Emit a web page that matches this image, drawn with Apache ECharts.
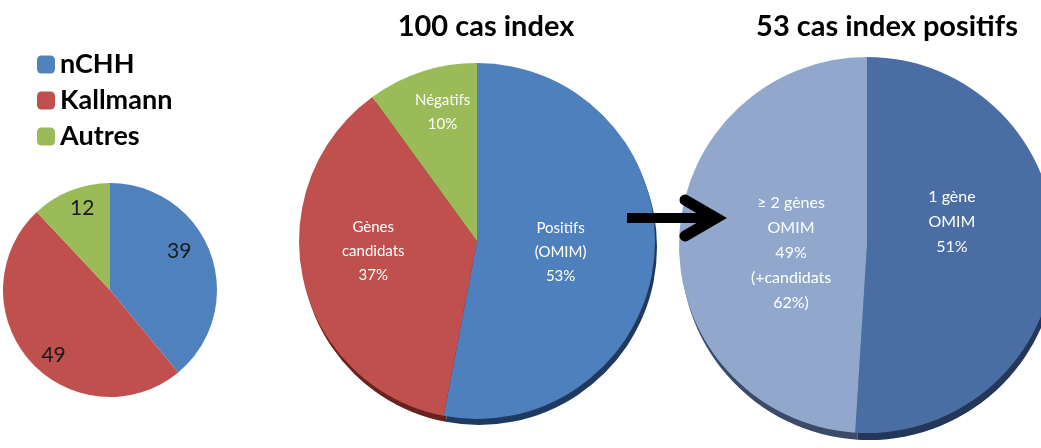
<!DOCTYPE html>
<html>
<head>
<meta charset="utf-8">
<script src="https://cdn.jsdelivr.net/npm/echarts@6/dist/echarts.min.js"></script>
<style>
  html, body { margin: 0; padding: 0; background: #fff; }
  #chart { width: 1041px; height: 448px; }
</style>
</head>
<body>
<div id="chart"></div>
<script>
// Répartition des patients
const groupNames = ['nCHH', 'Kallmann', 'Autres'];
const groupCounts = [39, 49, 12];

// 100 cas index
const indexNames = ['Positifs\n(OMIM)', 'Gènes\ncandidats', 'Négatifs'];
const indexPercents = [53, 37, 10];

// 53 cas index positifs
const positiveNames = ['1 gène\nOMIM', '≥ 2 gènes\nOMIM'];
const positivePercents = [51, 49];
const positiveNotes = ['', '(+candidats\n62%)'];

const titles = ['100 cas index', '53 cas index positifs'];

const FONT = 'Lato, "Open Sans", sans-serif';

const groupColors = ['#4F81BD', '#C0504D', '#9BBB59'];
const indexColors = ['#4F80BE', '#C0504D', '#9BBB59'];
const indexSide = ['#1F3A60', '#6A2220', '#566E2E'];
const positiveColors = ['#4A6EA3', '#91A7CC'];
const positiveSide = ['#22375A', '#3A4A68'];

function toData(names, values, colors) {
  return names.map((n, i) => ({ name: n, value: values[i], itemStyle: { color: colors[i] } }));
}

// per-slice shift of the inside labels
function nudge(offsets) {
  return function (p) {
    const o = offsets[p.dataIndex] || [0, 0];
    return { dx: o[0], dy: o[1] };
  };
}

const basePie = {
  type: 'pie',
  startAngle: 90,
  clockwise: true,
  silent: true,
  avoidLabelOverlap: false,
  labelLine: { show: false },
  itemStyle: { borderWidth: 0 },
  emphasis: { disabled: true }
};

const chart = echarts.init(document.getElementById('chart'), null, { renderer: 'canvas' });

const titleStyle = { fontFamily: FONT, fontSize: 29, fontWeight: 'bold', color: '#000' };

chart.setOption({
  animation: false,
  backgroundColor: '#ffffff',
  title: [
    { text: titles[0], left: 481, top: 7, textAlign: 'center', textStyle: titleStyle },
    { text: titles[1], left: 882, top: 7, textAlign: 'center', textStyle: titleStyle }
  ],
  legend: {
    data: groupNames,
    orient: 'vertical',
    left: 37,
    top: 51,
    padding: 0,
    icon: 'roundRect',
    itemWidth: 18,
    itemHeight: 18,
    itemGap: 9,
    selectedMode: false,
    textStyle: { fontFamily: FONT, fontSize: 27, fontWeight: 'bold', color: '#000' }
  },
  series: [
    // nCHH / Kallmann / Autres
    Object.assign({}, basePie, {
      name: 'groupes',
      center: [110, 290],
      radius: 107,
      data: toData(groupNames, groupCounts, groupColors),
      label: { show: true, position: 'inside', formatter: '{c}',
        fontFamily: FONT, fontSize: 21, color: '#1a1a1a' },
      labelLayout: nudge([[16, -20], [-14, 28], [-7, -29]])
    }),
    // side of the « 100 cas index » disc
    Object.assign({}, basePie, {
      name: 'index-side',
      center: [479, 247],
      radius: 178,
      z: 1,
      data: toData(indexNames, indexPercents, indexSide),
      label: { show: false }
    }),
    Object.assign({}, basePie, {
      name: 'index',
      center: [477, 241],
      radius: 178,
      z: 2,
      data: toData(indexNames, indexPercents, indexColors),
      label: { show: true, position: 'inside', formatter: '{b}\n{c}%',
        fontFamily: FONT, fontSize: 15, lineHeight: 24, color: '#fff' },
      labelLayout: nudge([[-8, 2], [-14, -10], [-6, -41]])
    }),
    // side of the « 53 cas index positifs » disc
    Object.assign({}, basePie, {
      name: 'positifs-side',
      center: [869, 252],
      radius: 188,
      z: 1,
      data: toData(positiveNames, positivePercents, positiveSide),
      label: { show: false }
    }),
    Object.assign({}, basePie, {
      name: 'positifs',
      center: [867, 245],
      radius: 188,
      z: 2,
      data: toData(positiveNames, positivePercents, positiveColors),
      label: { show: true, position: 'inside',
        formatter: p => p.name + '\n' + p.value + '%' + (positiveNotes[p.dataIndex] ? '\n' + positiveNotes[p.dataIndex] : ''),
        fontFamily: FONT, fontSize: 16, lineHeight: 25, color: '#fff' },
      labelLayout: nudge([[-12, -26], [21, 11]])
    })
  ],
  graphic: [
    { type: 'line', z: 100, zlevel: 1, silent: true,
      shape: { x1: 627, y1: 218, x2: 712, y2: 218 },
      style: { stroke: '#000', lineWidth: 10 } },
    { type: 'polyline', z: 100, zlevel: 1, silent: true,
      shape: { points: [[685, 200], [716, 218], [685, 236]] },
      style: { stroke: '#000', lineWidth: 11, lineCap: 'round', lineJoin: 'miter', fill: null } }
  ]
});
</script>
</body>
</html>
